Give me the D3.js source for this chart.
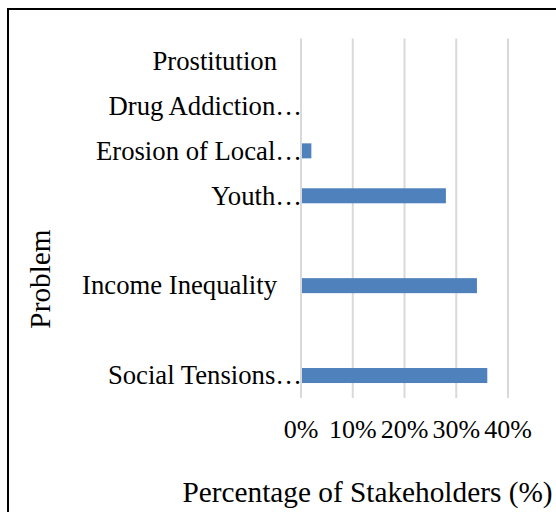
<!DOCTYPE html>
<html>
<head>
<meta charset="utf-8">
<script src="https://cdn.jsdelivr.net/npm/d3@7"></script>
<style>
  body { margin: 0; background: #fff; }
  text { font-family: "Liberation Serif", "Times New Roman", serif; fill: #000; }
</style>
</head>
<body>
<div class="chart"></div>
<script>
// categories from top to bottom, blanks are empty rows of the axis
var categories = ['Prostitution', 'Drug Addiction\u2026', 'Erosion of Local\u2026', 'Youth\u2026', '', 'Income Inequality', '', 'Social Tensions\u2026'];
var values = [0, 0, 0.02, 0.28, null, 0.34, null, 0.36];
var xTicks = [0, 0.1, 0.2, 0.3, 0.4];

var width = 556, height = 512;
var plotLeft = 301, plotRight = 508, plotTop = 38.5, plotBottom = 398;

var svg = d3.select('.chart').append('svg')
  .attr('width', width)
  .attr('height', height);

// outer frame
svg.append('rect')
  .attr('x', 8).attr('y', 9)
  .attr('width', 600).attr('height', 600)
  .attr('fill', 'none')
  .attr('stroke', '#000')
  .attr('stroke-width', 2);

var x = d3.scaleLinear().domain([0, 0.4]).range([plotLeft, plotRight]);
var y = d3.scaleBand()
  .domain(d3.range(categories.length))
  .range([plotTop, plotBottom])
  .paddingInner(0.666)
  .paddingOuter(0.333);

// gridlines
svg.append('g').selectAll('line')
  .data(xTicks)
  .enter().append('line')
  .attr('x1', function(d){ return x(d); })
  .attr('x2', function(d){ return x(d); })
  .attr('y1', plotTop)
  .attr('y2', plotBottom)
  .attr('stroke', '#d9d9d9')
  .attr('stroke-width', 2);

// bars
svg.append('g').selectAll('rect')
  .data(values.map(function(v, i){ return {v: v, i: i}; }).filter(function(d){ return d.v > 0; }))
  .enter().append('rect')
  .attr('x', x(0) + 1)
  .attr('y', function(d){ return y(d.i); })
  .attr('width', function(d){ return x(d.v) - x(0) - 1; })
  .attr('height', y.bandwidth())
  .attr('fill', '#4f81bd');

// category labels (truncated ones run up to the axis)
svg.append('g').selectAll('text')
  .data(categories)
  .enter().append('text')
  .attr('x', function(d){ return d.slice(-1) == '\u2026' ? x(0) + 1 : x(0) - 24; })
  .attr('y', function(d, i){ return y(i) + y.bandwidth() / 2; })
  .attr('dy', '0.33em')
  .attr('text-anchor', 'end')
  .attr('font-size', 26.7)
  .text(function(d){ return d; });

// x tick labels
svg.append('g').selectAll('text')
  .data(xTicks)
  .enter().append('text')
  .attr('x', function(d){ return x(d); })
  .attr('y', 438)
  .attr('text-anchor', 'middle')
  .attr('font-size', 26)
  .text(d3.format('.0%'));

// axis titles
svg.append('text')
  .attr('x', 367.5)
  .attr('y', 502)
  .attr('text-anchor', 'middle')
  .attr('font-size', 29.3)
  .text('Percentage of Stakeholders (%)');

svg.append('text')
  .attr('transform', 'translate(50,279) rotate(-90)')
  .attr('text-anchor', 'middle')
  .attr('font-size', 29.3)
  .text('Problem');
</script>
</body>
</html>
